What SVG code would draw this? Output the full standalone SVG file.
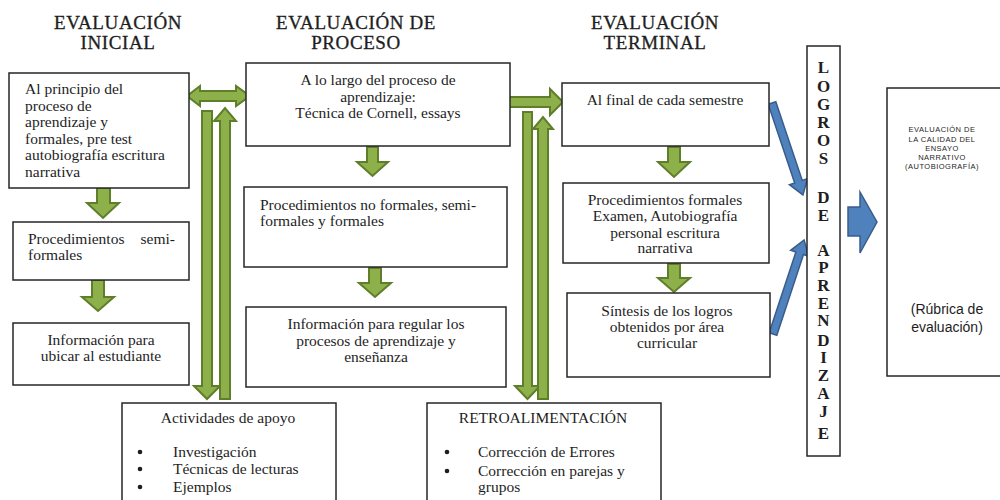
<svg xmlns="http://www.w3.org/2000/svg" width="1000" height="500" viewBox="0 0 1000 500">
<style>
.bx{fill:#fff;stroke:#262626;stroke-width:1.5}
.t{font-family:"Liberation Serif",serif;font-size:15.5px;fill:#1e1e1e}
.c{text-anchor:middle}
.h{font-family:"Liberation Serif",serif;font-size:19px;fill:#1e1e1e;text-anchor:middle;letter-spacing:0.6px;stroke:#1e1e1e;stroke-width:0.3}
.lg{font-family:"Liberation Serif",serif;font-size:17px;font-weight:bold;fill:#1e1e1e;text-anchor:middle}
.g{fill:#8db04a;stroke:#5e7e2a;stroke-width:2;stroke-linejoin:miter}
.b{fill:#4f81bd;stroke:#385d8a;stroke-width:1.5}
.s{font-family:"Liberation Sans",sans-serif;fill:#1e1e1e;text-anchor:middle}
</style>
<rect width="1000" height="500" fill="#fff"/>
<g id="headers">
<text class="h" x="118" y="29">EVALUACIÓN</text>
<text class="h" x="118" y="49">INICIAL</text>
<text class="h" x="356" y="29">EVALUACIÓN DE</text>
<text class="h" x="356" y="49">PROCESO</text>
<text class="h" x="655" y="29">EVALUACIÓN</text>
<text class="h" x="655" y="49">TERMINAL</text>
</g>
<g id="connectors">
<path class="g" d="M97,188 H110 V203 H119 L103,218 L87,203 H97 Z"/>
<path class="g" d="M92,280 H104 V297 H114 L98,311 L82,297 H92 Z"/>
<path class="g" d="M367,147 H378 V162 H388 L372.5,176 L357,162 H367 Z"/>
<path class="g" d="M369,268 H381 V283 H391 L375,297 L359,283 H369 Z"/>
<path class="g" d="M668,147 H680 V162 H690 L674,177 L658,162 H668 Z"/>
<path class="g" d="M668,264 H680 V278 H690 L674,292 L658,278 H668 Z"/>
<path class="g" d="M202,111 H212 V386 H220 L207,399 L194,386 H202 Z"/>
<path class="g" d="M220,399 V121 H214 L225,108 L236,121 H230 V399 Z"/>
<path class="g" d="M523,112 H532 V386 H540 L527.5,399 L515,386 H523 Z"/>
<path class="g" d="M538,399 V129 H533 L543,117 L553,129 H548 V399 Z"/>
<path class="g" d="M187,96 L200,86 V91 H236 V86 L250,96 L236,106 V101 H200 V106 Z"/>
<path class="g" d="M508,97 H550 V89 L563,102 L550,115 V107 H508 Z"/>
<g transform="translate(772,103) rotate(71.4)"><path class="b" d="M0,-4 H83 V-9.5 L97,0 L83,9.5 V4 H0 Z"/></g>
<g transform="translate(773,334) rotate(-71.7)"><path class="b" d="M0,-4 H85 V-9.5 L99,0 L85,9.5 V4 H0 Z"/></g>
<path class="b" d="M848,207 H860 V192 L877,222 L860,253 V236 H848 Z"/>
</g>
<g id="n_inicio">
<rect class="bx" x="9" y="73" width="180" height="115"/>
<text class="t" x="25" y="94">Al principio del</text>
<text class="t" x="25" y="110.5">proceso  de</text>
<text class="t" x="25" y="127">aprendizaje  y</text>
<text class="t" x="25" y="143.5">formales,  pre test</text>
<text class="t" x="25" y="160">autobiografía  escritura</text>
<text class="t" x="25" y="176.5">narrativa</text>
</g>
<g id="n_semiformales">
<rect class="bx" x="13" y="222" width="176" height="58"/>
<text class="t" x="28" y="244">Procedimientos</text>
<text class="t" x="175" y="244" text-anchor="end">semi-</text>
<text class="t" x="28" y="260">formales</text>
</g>
<g id="n_ubicar">
<rect class="bx" x="13" y="323" width="176" height="62"/>
<text class="t c" x="101" y="345">Información  para</text>
<text class="t c" x="101" y="361">ubicar al estudiante</text>
</g>
<g id="n_proceso">
<rect class="bx" x="246" y="63" width="264" height="83"/>
<text class="t c" x="378" y="85">A lo largo del proceso  de</text>
<text class="t c" x="378" y="102">aprendizaje:</text>
<text class="t c" x="378" y="118">Técnica  de Cornell, essays</text>
</g>
<g id="n_noformales">
<rect class="bx" x="244" y="187" width="263" height="80"/>
<text class="t" x="260" y="210">Procedimientos no formales, semi-</text>
<text class="t" x="260" y="226">formales  y  formales</text>
</g>
<g id="n_regular">
<rect class="bx" x="246" y="307" width="260" height="80"/>
<text class="t c" x="376" y="329">Información  para regular  los</text>
<text class="t c" x="376" y="346">procesos  de  aprendizaje  y</text>
<text class="t c" x="376" y="362">enseñanza</text>
</g>
<g id="n_final">
<rect class="bx" x="562" y="83" width="207" height="63"/>
<text class="t c" x="665" y="105">Al final de cada  semestre</text>
</g>
<g id="n_formales">
<rect class="bx" x="563" y="183" width="206" height="80"/>
<text class="t c" x="665" y="205">Procedimientos  formales</text>
<text class="t c" x="665" y="221">Examen,  Autobiografía</text>
<text class="t c" x="665" y="238">personal  escritura</text>
<text class="t c" x="665" y="253">narrativa</text>
</g>
<g id="n_sintesis">
<rect class="bx" x="567" y="293" width="203" height="84"/>
<text class="t c" x="667" y="316">Síntesis de los logros</text>
<text class="t c" x="667" y="332">obtenidos por área</text>
<text class="t c" x="667" y="348">curricular</text>
</g>
<g id="n_apoyo">
<rect class="bx" x="122" y="403" width="214" height="110"/>
<text class="t c" x="228" y="423">Actividades  de  apoyo</text>
<circle cx="140" cy="452" r="2.3" fill="#1e1e1e"/>
<circle cx="140" cy="469" r="2.3" fill="#1e1e1e"/>
<circle cx="140" cy="487" r="2.3" fill="#1e1e1e"/>
<text class="t" x="173" y="457">Investigación</text>
<text class="t" x="173" y="474">Técnicas  de lecturas</text>
<text class="t" x="173" y="492">Ejemplos</text>
</g>
<g id="n_retro">
<rect class="bx" x="427" y="403" width="234" height="110"/>
<text class="t c" x="543" y="423">RETROALIMENTACIÓN</text>
<circle cx="447" cy="452" r="2.3" fill="#1e1e1e"/>
<circle cx="447" cy="471" r="2.3" fill="#1e1e1e"/>
<text class="t" x="478" y="457">Corrección  de Errores</text>
<text class="t" x="478" y="476">Corrección  en parejas  y</text>
<text class="t" x="478" y="492">grupos</text>
</g>
<g id="n_logros">
<rect class="bx" x="807" y="46" width="33" height="410"/>
<text class="lg" x="823.5" y="73">L</text>
<text class="lg" x="823.5" y="92">O</text>
<text class="lg" x="823.5" y="110">G</text>
<text class="lg" x="823.5" y="128">R</text>
<text class="lg" x="823.5" y="146">O</text>
<text class="lg" x="823.5" y="164">S</text>
<text class="lg" x="823.5" y="203">D</text>
<text class="lg" x="823.5" y="221">E</text>
<text class="lg" x="823.5" y="256">A</text>
<text class="lg" x="823.5" y="273">P</text>
<text class="lg" x="823.5" y="291">R</text>
<text class="lg" x="823.5" y="309">E</text>
<text class="lg" x="823.5" y="326">N</text>
<text class="lg" x="823.5" y="346">D</text>
<text class="lg" x="823.5" y="363">I</text>
<text class="lg" x="823.5" y="381">Z</text>
<text class="lg" x="823.5" y="399">A</text>
<text class="lg" x="823.5" y="417">J</text>
<text class="lg" x="823.5" y="439">E</text>
</g>
<g id="n_rubrica">
<rect class="bx" x="887" y="88" width="130" height="288"/>
<text class="s" x="942" y="132" font-size="7.5" letter-spacing="0.5">EVALUACIÓN  DE</text>
<text class="s" x="942" y="142" font-size="7.5" letter-spacing="0.5">LA CALIDAD  DEL</text>
<text class="s" x="942" y="151" font-size="7.5" letter-spacing="0.5">ENSAYO</text>
<text class="s" x="942" y="160" font-size="7.5" letter-spacing="0.5">NARRATIVO</text>
<text class="s" x="942" y="169" font-size="7.5" letter-spacing="0.5">(AUTOBIOGRAFÍA)</text>
<text class="s" x="947" y="314" font-size="14">(Rúbrica de</text>
<text class="s" x="947" y="332" font-size="14">evaluación)</text>
</g>
</svg>
